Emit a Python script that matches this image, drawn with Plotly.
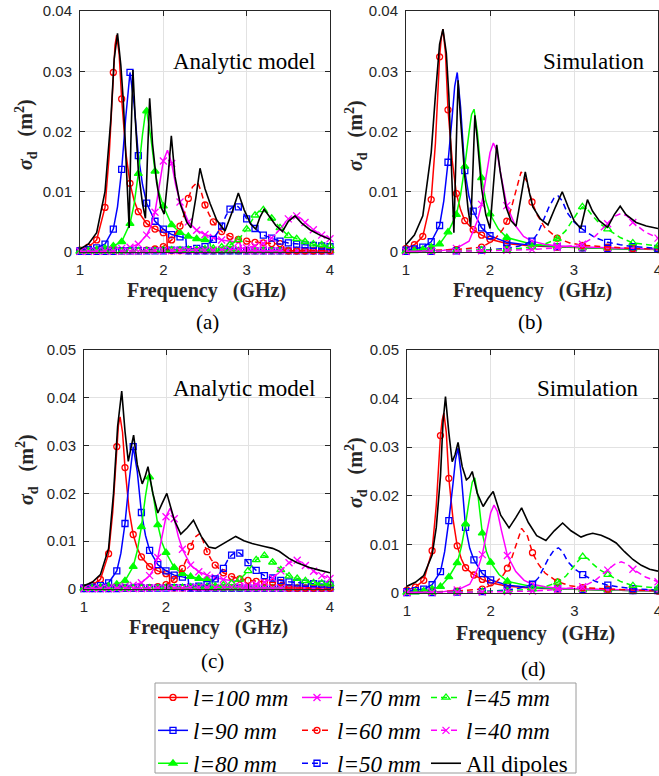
import plotly.graph_objects as go

# ---------------- data (frequency GHz, sigma_d m^2) ----------------
# Analytic model, single dipoles (shared by panels a and c)
A100 = [(1.0,0.0003),(1.1,0.0008),(1.2,0.002),(1.3,0.0074),(1.35,0.016),(1.4,0.0298),(1.42,0.0343),(1.44,0.036),
        (1.47,0.0328),(1.5,0.0254),(1.55,0.0165),(1.6,0.0114),(1.65,0.0085),(1.7,0.0067),(1.8,0.0047),(1.9,0.0038),
        (2.0,0.0032),(2.04,0.003),(2.05,0.0002),(2.1,0.0002),(2.2,0.0002),(2.3,0.0002),(2.4,0.0002),(2.5,0.0002),
        (2.6,0.0002),(2.7,0.0002),(2.8,0.0002),(2.9,0.0002),(3.0,0.0002),(3.1,0.0002),(3.2,0.0002),(3.3,0.0002),
        (3.4,0.0002),(3.5,0.0002),(3.6,0.0002),(3.7,0.0002),(3.8,0.0002),(3.9,0.0002),(4.0,0.0002)]
A90 = [(1.0,0.0002),(1.1,0.0004),(1.2,0.0007),(1.3,0.0013),(1.4,0.0038),(1.45,0.0075),(1.5,0.0137),(1.55,0.0225),
       (1.6,0.0298),(1.65,0.0245),(1.7,0.016),(1.75,0.0112),(1.8,0.0081),(1.9,0.0051),(2.0,0.0038),(2.1,0.0029),
       (2.2,0.0025),(2.27,0.0023),(2.28,0.0002),(2.3,0.0002),(2.4,0.0002),(2.5,0.0002),(2.6,0.0002),(2.7,0.0002),
       (2.8,0.0002),(2.9,0.0002),(3.0,0.0002),(3.1,0.0002),(3.2,0.0002),(3.3,0.0002),(3.4,0.0002),(3.5,0.0002),
       (3.6,0.0002),(3.7,0.0002),(3.8,0.0002),(3.9,0.0002),(4.0,0.0002)]
A80 = [(1.0,0.0001),(1.1,0.0002),(1.2,0.0004),(1.3,0.0006),(1.4,0.001),(1.5,0.0017),(1.6,0.0047),(1.65,0.008),
       (1.7,0.013),(1.75,0.0195),(1.79,0.0236),(1.8,0.0234),(1.85,0.019),(1.9,0.0134),(1.95,0.0098),(2.0,0.0076),
       (2.1,0.0045),(2.2,0.0032),(2.3,0.0026),(2.4,0.0022),(2.5,0.002),(2.56,0.0019),(2.57,0.0002),(2.6,0.0002),
       (2.7,0.0002),(2.8,0.0002),(2.9,0.0002),(3.0,0.0002),(3.1,0.0002),(3.2,0.0002),(3.3,0.0002),(3.4,0.0002),
       (3.5,0.0002),(3.6,0.0002),(3.7,0.0002),(3.8,0.0002),(3.9,0.0002),(4.0,0.0002)]
A70 = [(1.0,0.0001),(1.1,0.0001),(1.2,0.0002),(1.3,0.0003),(1.4,0.0004),(1.5,0.0006),(1.6,0.0008),(1.7,0.0013),
       (1.8,0.0028),(1.85,0.0042),(1.9,0.0066),(1.95,0.0105),(2.0,0.0151),(2.05,0.0169),(2.1,0.0147),(2.15,0.011),
       (2.2,0.0083),(2.3,0.005),(2.4,0.0036),(2.5,0.0029),(2.6,0.0024),(2.7,0.002),(2.8,0.0018),(2.9,0.0016),
       (2.92,0.0016),(2.93,0.0002),(3.0,0.0002),(3.1,0.0002),(3.2,0.0002),(3.3,0.0002),(3.4,0.0002),(3.5,0.0002),
       (3.6,0.0002),(3.7,0.0002),(3.8,0.0002),(3.9,0.0002),(4.0,0.0002)]
A60 = [(1.0,0.0001),(1.1,0.0001),(1.2,0.0001),(1.3,0.0001),(1.4,0.0002),(1.5,0.0002),(1.6,0.0002),(1.7,0.0002),
       (1.8,0.0003),(1.9,0.0005),(2.0,0.0009),(2.1,0.002),(2.2,0.0043),(2.25,0.0062),(2.3,0.0089),(2.35,0.0108),
       (2.41,0.0116),(2.45,0.0102),(2.5,0.0078),(2.55,0.0062),(2.6,0.005),(2.7,0.0034),(2.8,0.0026),(2.9,0.0021),
       (3.0,0.0018),(3.1,0.0016),(3.2,0.0015),(3.3,0.0014),(3.4,0.0014),(3.44,0.0013),(3.45,0.0002),(3.5,0.0002),
       (3.6,0.0002),(3.7,0.0002),(3.8,0.0002),(3.9,0.0002),(4.0,0.0002)]
A50 = [(1.0,0.0001),(1.1,0.0001),(1.2,0.0001),(1.3,0.0001),(1.4,0.0001),(1.5,0.0002),(1.6,0.0002),(1.7,0.0002),
       (1.8,0.0002),(1.9,0.0002),(2.0,0.0002),(2.1,0.0003),(2.2,0.0003),(2.3,0.0004),(2.4,0.0006),(2.5,0.0009),
       (2.6,0.0021),(2.7,0.0043),(2.75,0.006),(2.8,0.0071),(2.86,0.0078),(2.9,0.0075),(2.95,0.0067),(3.0,0.0055),
       (3.1,0.0039),(3.2,0.0028),(3.3,0.0023),(3.4,0.0018),(3.5,0.0015),(3.6,0.0013),(3.7,0.0012),(3.8,0.0011),
       (3.9,0.001),(4.0,0.0009)]
A45 = [(1.0,0.0001),(1.1,0.0001),(1.2,0.0001),(1.3,0.0001),(1.4,0.0001),(1.5,0.0001),(1.6,0.0002),(1.7,0.0002),
       (1.8,0.0002),(1.9,0.0002),(2.0,0.0003),(2.1,0.0003),(2.2,0.0003),(2.3,0.0004),(2.4,0.0004),(2.5,0.0005),
       (2.6,0.0006),(2.7,0.0008),(2.8,0.0012),(2.9,0.002),(3.0,0.0038),(3.05,0.005),(3.1,0.0061),(3.15,0.0068),
       (3.2,0.007),(3.25,0.0065),(3.3,0.0056),(3.4,0.004),(3.5,0.0027),(3.6,0.0022),(3.7,0.0017),(3.8,0.0013),
       (3.9,0.0012),(4.0,0.001)]
A40 = [(1.0,0.0001),(1.1,0.0001),(1.2,0.0001),(1.3,0.0001),(1.4,0.0001),(1.5,0.0001),(1.6,0.0001),(1.7,0.0001),
       (1.8,0.0002),(1.9,0.0002),(2.0,0.0002),(2.1,0.0002),(2.2,0.0002),(2.3,0.0003),(2.4,0.0003),(2.5,0.0003),
       (2.6,0.0003),(2.7,0.0004),(2.8,0.0004),(2.9,0.0005),(3.0,0.0007),(3.1,0.001),(3.2,0.0014),(3.3,0.0023),
       (3.4,0.0038),(3.45,0.0047),(3.5,0.0055),(3.6,0.006),(3.65,0.0056),(3.7,0.0049),(3.8,0.0037),(3.9,0.0028),
       (4.0,0.0022)]

# Simulation, single dipoles (shared by panels b and d)
S100 = [(1.0,0.0006),(1.1,0.0012),(1.2,0.0026),(1.3,0.0087),(1.35,0.018),(1.4,0.0324),(1.42,0.0355),(1.44,0.037),
        (1.47,0.033),(1.5,0.0236),(1.55,0.0152),(1.6,0.0097),(1.65,0.007),(1.7,0.0052),(1.8,0.0037),(1.9,0.0028),
        (2.0,0.0021),(2.2,0.0014),(2.5,0.001),(2.8,0.0008),(3.1,0.0007),(3.4,0.0006),(3.7,0.0005),(4.0,0.0004)]
S90 = [(1.0,0.0003),(1.1,0.0005),(1.2,0.0008),(1.3,0.0017),(1.4,0.0044),(1.45,0.0085),(1.5,0.0149),(1.55,0.0225),
       (1.58,0.0275),(1.61,0.0298),(1.65,0.024),(1.7,0.0135),(1.75,0.0092),(1.8,0.0068),(1.9,0.004),(2.0,0.0027),
       (2.2,0.0016),(2.5,0.0011),(2.8,0.0009),(3.1,0.0007),(3.4,0.0006),(3.7,0.0005),(4.0,0.0005)]
S80 = [(1.0,0.0001),(1.1,0.0002),(1.2,0.0004),(1.3,0.0008),(1.4,0.0013),(1.5,0.0033),(1.6,0.0062),(1.65,0.0095),
       (1.7,0.0142),(1.75,0.0198),(1.78,0.0228),(1.81,0.0237),(1.85,0.0198),(1.9,0.0123),(1.95,0.0085),(2.0,0.0063),
       (2.1,0.0038),(2.2,0.0024),(2.5,0.0013),(2.8,0.0009),(3.1,0.0007),(3.4,0.0006),(3.7,0.0005),(4.0,0.0005)]
S70 = [(1.0,0.0001),(1.3,0.0002),(1.45,0.0003),(1.6,0.0006),(1.75,0.0018),(1.85,0.0052),(1.9,0.0079),(1.95,0.0122),
       (2.0,0.0165),(2.04,0.0181),(2.08,0.0168),(2.13,0.0128),(2.2,0.0077),(2.3,0.0044),(2.4,0.0026),(2.5,0.0018),
       (2.65,0.0013),(2.8,0.001),(3.1,0.0008),(3.4,0.0007),(3.7,0.0006),(4.0,0.0005)]
S60 = [(1.0,0.0001),(1.3,0.0002),(1.6,0.0004),(1.9,0.0008),(2.05,0.002),(2.15,0.0037),(2.2,0.0051),(2.25,0.0071),
       (2.3,0.0098),(2.37,0.0133),(2.44,0.0117),(2.5,0.0083),(2.56,0.0062),(2.65,0.0041),(2.8,0.0023),(2.95,0.0015),
       (3.1,0.0011),(3.4,0.0008),(3.7,0.0006),(4.0,0.0005)]
S50 = [(1.0,0.0001),(1.3,0.0001),(1.6,0.0002),(1.9,0.0003),(2.2,0.0006),(2.35,0.001),(2.5,0.0018),(2.57,0.0031),
       (2.63,0.0052),(2.7,0.0074),(2.76,0.0089),(2.81,0.0093),(2.86,0.0085),(2.92,0.0065),(3.0,0.005),(3.1,0.0038),
       (3.25,0.0024),(3.4,0.0016),(3.55,0.0012),(3.7,0.0009),(4.0,0.0006)]
S45 = [(1.0,0.0001),(1.3,0.0001),(1.6,0.0002),(1.9,0.0003),(2.2,0.0004),(2.5,0.0008),(2.65,0.0013),(2.8,0.0022),
       (2.9,0.0035),(2.98,0.0052),(3.05,0.0067),(3.1,0.0075),(3.16,0.0071),(3.22,0.006),(3.3,0.0048),(3.4,0.0038),
       (3.55,0.0024),(3.7,0.0015),(3.85,0.0012),(4.0,0.001)]
S40 = [(1.0,0.0001),(1.3,0.0001),(1.6,0.0001),(1.9,0.0002),(2.2,0.0003),(2.5,0.0004),(2.8,0.0007),(3.1,0.0013),
       (3.25,0.0026),(3.4,0.0047),(3.48,0.0059),(3.56,0.0064),(3.63,0.006),(3.7,0.0049),(3.85,0.0033),(4.0,0.0023)]

# All dipoles, one curve per panel
ALL_A = [(1.0,0.0005),(1.1,0.0013),(1.2,0.0032),(1.3,0.01),(1.37,0.022),(1.41,0.032),(1.45,0.0363),(1.49,0.031),
         (1.52,0.025),(1.55,0.017),(1.575,0.01),(1.59,0.004),(1.61,0.018),(1.635,0.0302),(1.66,0.023),(1.7,0.0135),
         (1.75,0.008),(1.785,0.0056),(1.81,0.016),(1.836,0.0255),(1.87,0.018),(1.92,0.0115),(1.97,0.0075),
         (2.01,0.0063),(2.06,0.013),(2.096,0.0193),(2.14,0.0125),(2.2,0.0081),(2.28,0.005),(2.33,0.004),(2.39,0.009),
         (2.44,0.0139),(2.5,0.0105),(2.56,0.0081),(2.64,0.0053),(2.74,0.0035),(2.83,0.0068),(2.9,0.0098),
         (2.97,0.007),(3.05,0.0046),(3.11,0.0038),(3.16,0.0058),(3.21,0.0071),(3.27,0.006),(3.35,0.0044),
         (3.43,0.0034),(3.5,0.0051),(3.58,0.006),(3.66,0.0048),(3.76,0.0037),(3.88,0.0028),(4.0,0.0021)]
ALL_B = [(1.0,0.0012),(1.1,0.0028),(1.2,0.006),(1.3,0.0165),(1.35,0.026),(1.4,0.0345),(1.44,0.037),(1.48,0.033),
         (1.51,0.026),(1.54,0.015),(1.57,0.0032),(1.595,0.016),(1.62,0.0285),(1.65,0.022),(1.7,0.0125),(1.74,0.007),
         (1.77,0.0042),(1.795,0.013),(1.82,0.0227),(1.85,0.0185),(1.9,0.0105),(1.95,0.0062),(2.0,0.0039),
         (2.04,0.011),(2.08,0.0178),(2.12,0.0135),(2.19,0.0075),(2.25,0.0052),(2.31,0.0043),(2.37,0.0092),
         (2.42,0.0133),(2.47,0.0098),(2.51,0.0075),(2.6,0.0055),(2.69,0.0045),(2.78,0.0075),(2.86,0.01),(2.93,0.0075),
         (3.0,0.0052),(3.08,0.0039),(3.12,0.0065),(3.16,0.0087),(3.22,0.0068),(3.3,0.0052),(3.4,0.0041),(3.48,0.0062),
         (3.55,0.0076),(3.62,0.0062),(3.74,0.0049),(3.86,0.0043),(4.0,0.0039)]
ALL_C = [(1.0,0.0007),(1.1,0.0014),(1.2,0.003),(1.3,0.0085),(1.36,0.02),(1.41,0.034),(1.46,0.0414),(1.5,0.033),
         (1.54,0.0267),(1.57,0.029),(1.605,0.0322),(1.65,0.026),(1.71,0.022),(1.745,0.0235),(1.78,0.0256),(1.84,0.02),
         (1.9,0.0159),(1.95,0.0178),(2.01,0.02),(2.1,0.0145),(2.18,0.0115),(2.26,0.0128),(2.335,0.0144),(2.43,0.011),
         (2.52,0.0088),(2.6,0.0085),(2.7,0.0095),(2.85,0.011),(2.95,0.0101),(3.05,0.0095),(3.2,0.0089),(3.3,0.0085),
         (3.38,0.0079),(3.5,0.0064),(3.6,0.0055),(3.75,0.0045),(3.88,0.0039),(4.0,0.0034)]
ALL_D = [(1.0,0.0014),(1.1,0.0022),(1.2,0.0036),(1.3,0.0078),(1.35,0.0135),(1.4,0.024),(1.43,0.035),(1.46,0.0404),
         (1.5,0.033),(1.54,0.027),(1.575,0.0285),(1.61,0.031),(1.66,0.026),(1.71,0.0233),(1.745,0.0238),(1.78,0.025),
         (1.84,0.0205),(1.91,0.0178),(1.97,0.0195),(2.03,0.0209),(2.12,0.016),(2.22,0.0134),(2.3,0.0155),(2.37,0.0175),
         (2.45,0.0145),(2.55,0.0118),(2.66,0.0108),(2.76,0.0128),(2.86,0.0144),(2.96,0.0128),(3.08,0.0115),
         (3.15,0.012),(3.22,0.0123),(3.32,0.0119),(3.42,0.0111),(3.5,0.0103),(3.6,0.0085),(3.7,0.0069),(3.8,0.0057),
         (3.9,0.0049),(4.0,0.0045)]

# frequencies that carry a marker
MK_ANALYTIC = [round(1.0 + 0.1 * i, 1) for i in range(31)]
MK_SIM_DENSE = [round(1.0 + 0.1 * i, 1) for i in range(11)] + [2.2, 2.5, 2.8, 3.1, 3.4, 3.7, 4.0]
MK_SIM_SPARSE = [1.0, 1.3, 1.6, 1.9, 2.2, 2.5, 2.8, 3.1, 3.4, 3.7, 4.0]

X_TICKS = [1, 2, 3, 4]
Y_TICKS_TOP = [0, 0.01, 0.02, 0.03, 0.04]
Y_TICKS_BOT = [0, 0.01, 0.02, 0.03, 0.04, 0.05]

# ---------------- styles ----------------
RED, BLUE, GREEN, MAG = '#ff0000', '#0000ff', '#00ff00', '#ff00ff'
DASH = '6px,4px'
STYLES = [
    # key, legend name, color, dash, symbol, size, legend, rank
    ('100', '<i>l=100 mm</i>', RED, 'solid', 'circle-open', 6, 'legend', 1),
    ('90', '<i>l=90 mm</i>', BLUE, 'solid', 'square-open', 6, 'legend', 2),
    ('80', '<i>l=80 mm</i>', GREEN, 'solid', 'triangle-up', 7, 'legend', 3),
    ('70', '<i>l=70 mm</i>', MAG, 'solid', 'x-thin', 7, 'legend2', 4),
    ('60', '<i>l=60 mm</i>', RED, DASH, 'circle-open', 6, 'legend2', 5),
    ('50', '<i>l=50 mm</i>', BLUE, DASH, 'square-open', 6, 'legend2', 6),
    ('45', '<i>l=45 mm</i>', GREEN, DASH, 'triangle-up-open', 7, 'legend3', 7),
    ('40', '<i>l=40 mm</i>', MAG, DASH, 'x-thin', 7, 'legend3', 8),
]
ANALYTIC = {'100': A100, '90': A90, '80': A80, '70': A70, '60': A60, '50': A50, '45': A45, '40': A40}
SIM = {'100': S100, '90': S90, '80': S80, '70': S70, '60': S60, '50': S50, '45': S45, '40': S40}
SIM_MK = {'100': MK_SIM_DENSE, '90': MK_SIM_DENSE, '80': MK_SIM_DENSE}

fig = go.Figure()


def add_panel(n, series, black, sim, legend):
    xa = 'x' if n == 1 else 'x%d' % n
    ya = 'y' if n == 1 else 'y%d' % n
    for key, name, col, dash, sym, size, leg, rank in STYLES:
        data = series[key]
        f = [p[0] for p in data]
        v = [p[1] for p in data]
        mk = (SIM_MK.get(key, MK_SIM_SPARSE) if sim else MK_ANALYTIC)
        sel = [i for i, x in enumerate(f) if any(abs(x - m) < 1e-6 for m in mk)]
        fig.add_trace(go.Scatter(
            x=f, y=v, xaxis=xa, yaxis=ya, mode='lines+markers', name=name,
            legendgroup=key, showlegend=legend, legend=leg, legendrank=rank,
            line=dict(color=col, width=1.5, dash=dash),
            marker=dict(symbol=sym, size=size, color=col, line=dict(color=col, width=1.3)),
            selectedpoints=sel, selected=dict(marker=dict(opacity=1)),
            unselected=dict(marker=dict(opacity=0)), cliponaxis=False, hoverinfo='skip'))
    fig.add_trace(go.Scatter(
        x=[p[0] for p in black], y=[p[1] for p in black], xaxis=xa, yaxis=ya, mode='lines',
        name='All dipoles', legendgroup='all', showlegend=legend, legend='legend3', legendrank=9,
        line=dict(color='black', width=1.6), hoverinfo='skip'))


add_panel(1, ANALYTIC, ALL_A, False, True)
add_panel(2, SIM, ALL_B, True, False)
add_panel(3, ANALYTIC, ALL_C, False, False)
add_panel(4, SIM, ALL_D, True, False)

W, H = 659, 776
AX = '#262626'
GRID = '#e2e2e2'


def xdom(a, b):
    return [a / W, b / W]


def ydom(top, bottom):
    return [1 - bottom / H, 1 - top / H]


def xaxis(dom, anchor):
    return dict(domain=dom, anchor=anchor, range=[1, 4], tickvals=X_TICKS, ticktext=[str(t) for t in X_TICKS],
                showline=True, linecolor=AX, linewidth=1, mirror='allticks', ticks='inside', ticklen=5,
                tickcolor=AX, showgrid=True, gridcolor=GRID, gridwidth=1, zeroline=False,
                ticklabeloverflow='allow', automargin=False,
                tickfont=dict(family='Liberation Sans, Arial', size=15, color=AX), ticklabelstandoff=4)


def yaxis(dom, anchor, ticks):
    return dict(domain=dom, anchor=anchor, range=[0, ticks[-1]], tickvals=ticks,
                ticktext=['0'] + ['%.2f' % t for t in ticks[1:]],
                showline=True, linecolor=AX, linewidth=1, mirror='allticks', ticks='inside', ticklen=5,
                tickcolor=AX, showgrid=True, gridcolor=GRID, gridwidth=1, zeroline=False,
                ticklabeloverflow='allow', automargin=False,
                tickfont=dict(family='Liberation Sans, Arial', size=15, color=AX), ticklabelstandoff=4)


serif = 'Liberation Serif, Times New Roman, serif'
ann = []


def text(x, y, s, size, angle=0, color='#262626'):
    ann.append(dict(x=x / W, y=1 - y / H, xref='paper', yref='paper', text=s, showarrow=False,
                    xanchor='center', yanchor='middle', textangle=angle,
                    font=dict(family=serif, size=size, color=color)))


NB = '\u00a0'
FREQ = '<b>Frequency' + NB * 3 + '(GHz)</b>'
SIG = '<b><i>σ</i><sub>d</sub>' + NB * 3 + '(m<sup>2</sup>)</b>'
text(244, 62, 'Analytic model', 23, color='black')
text(593, 62, 'Simulation', 23, color='black')
text(244, 388, 'Analytic model', 23, color='black')
text(587, 388, 'Simulation', 23, color='black')
text(206, 290, FREQ, 20)
text(532, 290, FREQ, 20)
text(208, 627, FREQ, 20)
text(535, 633, FREQ, 20)
text(26, 135, SIG, 20, -90)
text(356, 135, SIG, 20, -90)
text(27, 470, SIG, 20, -90)
text(356, 472, SIG, 20, -90)
text(207, 322, '(a)', 21, color='black')
text(530, 322, '(b)', 21, color='black')
text(213, 661, '(c)', 21, color='black')
text(533, 669, '(d)', 21, color='black')

leg_common = dict(yanchor='top', xanchor='left', bgcolor='rgba(0,0,0,0)', borderwidth=0,
                  font=dict(family=serif, size=23, color='black'), tracegroupgap=0, itemwidth=30,
                  itemclick=False, itemdoubleclick=False)
LEG_TOP = 676

fig.update_layout(
    width=W, height=H, margin=dict(l=0, r=0, t=0, b=0, autoexpand=False),
    paper_bgcolor='white', plot_bgcolor='white', showlegend=True,
    xaxis=xaxis(xdom(80, 330), 'y'), yaxis=yaxis(ydom(11, 252), 'x', Y_TICKS_TOP),
    xaxis2=xaxis(xdom(406, 658), 'y2'), yaxis2=yaxis(ydom(11, 252), 'x2', Y_TICKS_TOP),
    xaxis3=xaxis(xdom(84, 330), 'y3'), yaxis3=yaxis(ydom(350, 589), 'x3', Y_TICKS_BOT),
    xaxis4=xaxis(xdom(407, 658), 'y4'), yaxis4=yaxis(ydom(350, 593), 'x4', Y_TICKS_BOT),
    legend=dict(x=153 / W, y=1 - LEG_TOP / H, **leg_common),
    legend2=dict(x=297 / W, y=1 - LEG_TOP / H, **leg_common),
    legend3=dict(x=426 / W, y=1 - LEG_TOP / H, **leg_common),
    annotations=ann,
    shapes=[dict(type='rect', xref='paper', yref='paper', x0=155 / W, x1=576 / W, y0=1 - 773 / H,
                 y1=1 - 683 / H, line=dict(color='#9a9a9a', width=1), fillcolor='white', layer='below')],
)

PIN = ("document.body.style.margin='0px';document.body.style.overflow='hidden';"
       "var d=document.getElementsByClassName('plotly-graph-div')[0];"
       "d.style.position='fixed';d.style.left='0px';d.style.top='0px';")
fig.write_html('out.html', config={'displayModeBar': False}, post_script=PIN)
